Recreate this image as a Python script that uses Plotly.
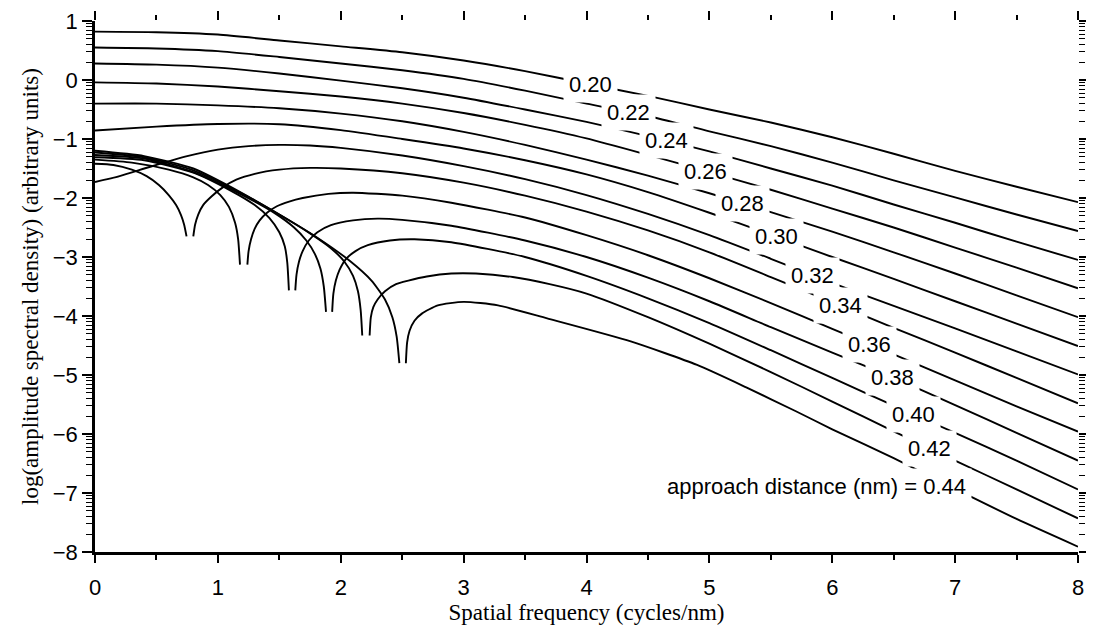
import numpy as np
import plotly.graph_objects as go

# ---------------- data ----------------
approach_distances = ["0.20", "0.22", "0.24", "0.26", "0.28", "0.30", "0.32",
                      "0.34", "0.36", "0.38", "0.40", "0.42", "0.44"]

x_grid = [0, 0.5, 1, 1.5, 2, 2.5, 3, 3.5, 4, 4.5, 5, 5.5, 6, 6.5, 7, 7.5, 8]

y_020 = [0.82, 0.81, 0.77, 0.67, 0.57, 0.47, 0.33, 0.15, -0.06, -0.27, -0.50,
         -0.72, -0.97, -1.25, -1.54, -1.81, -2.07]
y_022 = [0.55, 0.535, 0.49, 0.39, 0.28, 0.165, 0.02, -0.18, -0.40, -0.61, -0.87,
         -1.12, -1.40, -1.70, -1.99, -2.28, -2.56]
y_024 = [0.28, 0.26, 0.21, 0.11, -0.01, -0.14, -0.30, -0.50, -0.71, -0.95, -1.21,
         -1.50, -1.79, -2.11, -2.42, -2.74, -3.05]
y_026 = [-0.04, -0.06, -0.11, -0.19, -0.28, -0.40, -0.56, -0.76, -0.99, -1.27,
         -1.56, -1.86, -2.18, -2.50, -2.84, -3.18, -3.53]
y_028 = [-0.40, -0.40, -0.43, -0.48, -0.57, -0.70, -0.88, -1.10, -1.35, -1.62,
         -1.92, -2.24, -2.57, -2.92, -3.28, -3.65, -4.02]
y_030 = [-0.855, -0.79, -0.745, -0.75, -0.85, -1.00, -1.16, -1.36, -1.60, -1.90,
         -2.25, -2.62, -3.00, -3.37, -3.75, -4.13, -4.51]

x_032 = [0, 0.2, 0.45, 0.75, 1.0, 1.25, 1.5, 1.75, 2.0, 2.5, 3, 3.5, 4, 4.5, 5,
         5.5, 6, 6.5, 7, 7.5, 8]
y_032 = [-1.73, -1.63, -1.47, -1.29, -1.18, -1.12, -1.10, -1.11, -1.15, -1.28,
         -1.46, -1.68, -1.95, -2.27, -2.63, -3.03, -3.44, -3.83, -4.21, -4.60, -4.99]

x_034 = [0, 0.15, 0.3, 0.42, 0.52, 0.60, 0.66, 0.70, 0.725, 0.745, None,
         0.80, 0.815, 0.84, 0.88, 0.95, 1.04, 1.15, 1.30, 1.5, 1.75, 2.0, 2.5, 3,
         3.5, 4, 4.5, 5, 5.5, 6, 6.5, 7, 7.5, 8]
y_034 = [-1.42, -1.44, -1.52, -1.63, -1.78, -1.95, -2.12, -2.29, -2.45, -2.65, None,
         -2.65, -2.45, -2.28, -2.12, -1.97, -1.82, -1.69, -1.59, -1.52, -1.49, -1.50,
         -1.58, -1.74, -1.96, -2.23, -2.55, -2.92, -3.34, -3.77, -4.20, -4.62, -5.05,
         -5.48]

x_036 = [0, 0.3, 0.6, 0.8, 0.92, 1.02, 1.09, 1.14, 1.165, 1.18, None,
         1.24, 1.25, 1.27, 1.30, 1.34, 1.40, 1.48, 1.58, 1.69, 1.9, 2.1, 2.5, 2.9,
         3.5, 4, 4.5, 5, 5.5, 6, 6.5, 7, 7.5, 8]
y_036 = [-1.35, -1.40, -1.52, -1.65, -1.78, -1.95, -2.15, -2.42, -2.70, -3.13, None,
         -3.13, -2.90, -2.70, -2.52, -2.38, -2.25, -2.14, -2.06, -2.00, -1.93, -1.91,
         -1.96, -2.08, -2.33, -2.63, -2.97, -3.36, -3.78, -4.22, -4.65, -5.09, -5.53,
         -5.96]

x_038 = [0, 0.4, 0.8, 1.1, 1.3, 1.42, 1.50, 1.545, 1.565, 1.578, None,
         1.63, 1.64, 1.66, 1.69, 1.74, 1.81, 1.92, 2.1, 2.3, 2.5, 2.9, 3.5, 4, 4.5,
         5, 5.5, 6, 6.5, 7, 7.5, 8]
y_038 = [-1.31, -1.36, -1.57, -1.87, -2.12, -2.34, -2.58, -2.82, -3.10, -3.565, None,
         -3.565, -3.30, -3.08, -2.90, -2.72, -2.58, -2.46, -2.38, -2.35, -2.37, -2.47,
         -2.72, -3.00, -3.35, -3.75, -4.19, -4.62, -5.05, -5.51, -5.98, -6.45]

x_040 = [0, 0.4, 0.8, 1.2, 1.45, 1.62, 1.72, 1.79, 1.835, 1.862, 1.88, None,
         1.93, 1.94, 1.96, 1.99, 2.04, 2.12, 2.22, 2.4, 2.6, 2.9, 3.5, 4, 4.5, 5,
         5.5, 6, 6.5, 7, 7.5, 8]
y_040 = [-1.27, -1.33, -1.56, -1.95, -2.24, -2.50, -2.72, -2.95, -3.20, -3.50, -3.93,
         None, -3.93, -3.62, -3.40, -3.22, -3.04, -2.90, -2.80, -2.72, -2.70, -2.75,
         -3.00, -3.32, -3.70, -4.12, -4.58, -5.05, -5.52, -5.98, -6.45, -6.94]

x_042 = [0, 0.4, 0.8, 1.2, 1.5, 1.75, 1.92, 2.03, 2.10, 2.14, 2.162, 2.175, None,
         2.235, 2.245, 2.265, 2.30, 2.36, 2.45, 2.55, 2.7, 2.9, 3.1, 3.4, 3.7, 4,
         4.5, 5, 5.5, 6, 6.5, 7, 7.5, 8]
y_042 = [-1.23, -1.31, -1.53, -1.93, -2.28, -2.60, -2.85, -3.08, -3.32, -3.58, -3.90,
         -4.33, None, -4.33, -4.02, -3.85, -3.72, -3.58, -3.46, -3.40, -3.33, -3.28,
         -3.28, -3.34, -3.46, -3.62, -4.02, -4.47, -4.95, -5.45, -5.955, -6.45,
         -6.94, -7.43]

x_044 = [0, 0.4, 0.8, 1.2, 1.5, 1.8, 2.07, 2.25, 2.36, 2.42, 2.455, 2.477, None,
         2.53, 2.54, 2.56, 2.60, 2.66, 2.79, 3.0, 3.28, 3.68, 4.36, 4.9, 5.3, 5.7,
         6.0, 6.5, 7.0, 7.5, 8.0]
y_044 = [-1.20, -1.29, -1.50, -1.92, -2.28, -2.66, -3.06, -3.40, -3.72, -4.02, -4.35,
         -4.80, None, -4.80, -4.45, -4.25, -4.08, -3.96, -3.82, -3.76, -3.82, -4.04,
         -4.43, -4.83, -5.21, -5.61, -5.92, -6.41, -6.93, -7.44, -7.91]

curves_x = [x_grid, x_grid, x_grid, x_grid, x_grid, x_grid, x_032,
            x_034, x_036, x_038, x_040, x_042, x_044]
curves_y = [y_020, y_022, y_024, y_026, y_028, y_030, y_032,
            y_034, y_036, y_038, y_040, y_042, y_044]

y_tick_values = [1, 0, -1, -2, -3, -4, -5, -6, -7, -8]

# ---------------- layout helpers ----------------
SANS = "Liberation Sans, Arial, Helvetica, sans-serif"
SERIF = "Liberation Serif, Times New Roman, serif"
BLACK = "black"

# horizontal positions of the in-line curve labels (data units)
label_x = [4.03, 4.34, 4.65, 4.97, 5.27, 5.55, 5.84, 6.07, 6.30, 6.49, 6.66, 6.79, 7.14]

minor_log = [n + np.log10(k) for n in range(-8, 1) for k in range(2, 10)]

fig = go.Figure()

for xs, ys in zip(curves_x, curves_y):
    fig.add_trace(go.Scatter(
        x=xs, y=ys, mode="lines",
        line=dict(color=BLACK, width=1.9, shape="spline", smoothing=0.6),
        connectgaps=False, hoverinfo="skip"))

# empty trace so that the top and right tick-only axes are drawn
fig.add_trace(go.Scatter(x=[], y=[], xaxis="x2", yaxis="y2", mode="lines",
                         hoverinfo="skip", showlegend=False))

annotations = []
for i, (lab, xs, ys) in enumerate(zip(approach_distances, curves_x, curves_y)):
    pts = [(a, b) for a, b in zip(xs, ys) if a is not None]
    px = np.array([p[0] for p in pts])
    py = np.array([p[1] for p in pts])
    if lab == "0.44":
        text = "approach distance (nm) = " + lab
        yy = float(np.interp(label_x[i] - 0.18, px, py))
        annotations.append(dict(x=label_x[i], y=yy, xref="x", yref="y", text=text,
                                showarrow=False, xanchor="right", yanchor="middle",
                                font=dict(family=SANS, size=22, color=BLACK),
                                bgcolor="white", borderpad=5))
    else:
        yy = float(np.interp(label_x[i], px, py))
        annotations.append(dict(x=label_x[i], y=yy, xref="x", yref="y", text=lab,
                                showarrow=False, xanchor="center", yanchor="middle",
                                font=dict(family=SANS, size=22, color=BLACK),
                                bgcolor="white", borderpad=5))

fig.update_layout(
    width=1094, height=629,
    margin=dict(l=95, r=9, t=20, b=74),
    plot_bgcolor="white", paper_bgcolor="white",
    showlegend=False,
    annotations=annotations,
    xaxis=dict(range=[0, 8], showline=True, linecolor=BLACK, linewidth=2.5,
               ticks="outside", ticklen=8, tickwidth=2, tickcolor=BLACK,
               tick0=0, dtick=1, showgrid=False, zeroline=False,
               tickfont=dict(family=SANS, size=22, color=BLACK),
               ticklabelstandoff=6,
               minor=dict(tick0=0, dtick=0.5, ticks="outside", ticklen=5,
                          tickwidth=1.5, tickcolor=BLACK, showgrid=False),
               title=dict(text="Spatial frequency (cycles/nm)",
                          font=dict(family=SERIF, size=23, color=BLACK),
                          standoff=4)),
    xaxis2=dict(overlaying="x", side="top", anchor="y", range=[0, 8],
                showline=False, ticks="outside", ticklen=9, tickwidth=2,
                tickcolor=BLACK, tick0=0, dtick=1, showticklabels=False,
                showgrid=False, zeroline=False,
                minor=dict(tick0=0, dtick=0.5, ticks="outside", ticklen=5,
                           tickwidth=1.5, tickcolor=BLACK, showgrid=False)),
    yaxis=dict(range=[-8, 1], showline=True, linecolor=BLACK, linewidth=2.5,
               ticks="outside", ticklen=10, tickwidth=2, tickcolor=BLACK,
               tickmode="array", tickvals=y_tick_values,
               showgrid=False, zeroline=False,
               tickfont=dict(family=SANS, size=22, color=BLACK),
               minor=dict(tickmode="array", tickvals=minor_log, ticks="outside",
                          ticklen=6, tickwidth=1.2, tickcolor=BLACK, showgrid=False),
               title=dict(text="log(amplitude spectral density) (arbitrary units)",
                          font=dict(family=SERIF, size=23, color=BLACK),
                          standoff=8)),
    yaxis2=dict(overlaying="y", side="right", anchor="x", range=[-8, 1],
                showline=False, ticks="outside", ticklen=7, tickwidth=2,
                tickcolor=BLACK, tickmode="array", tickvals=y_tick_values,
                showticklabels=False, showgrid=False, zeroline=False,
                minor=dict(tickmode="array", tickvals=minor_log, ticks="outside",
                           ticklen=6, tickwidth=1.2, tickcolor=BLACK, showgrid=False)),
)

fig.write_html("out.html", config={"displayModeBar": False},
               post_script="document.body.style.margin='0';")
